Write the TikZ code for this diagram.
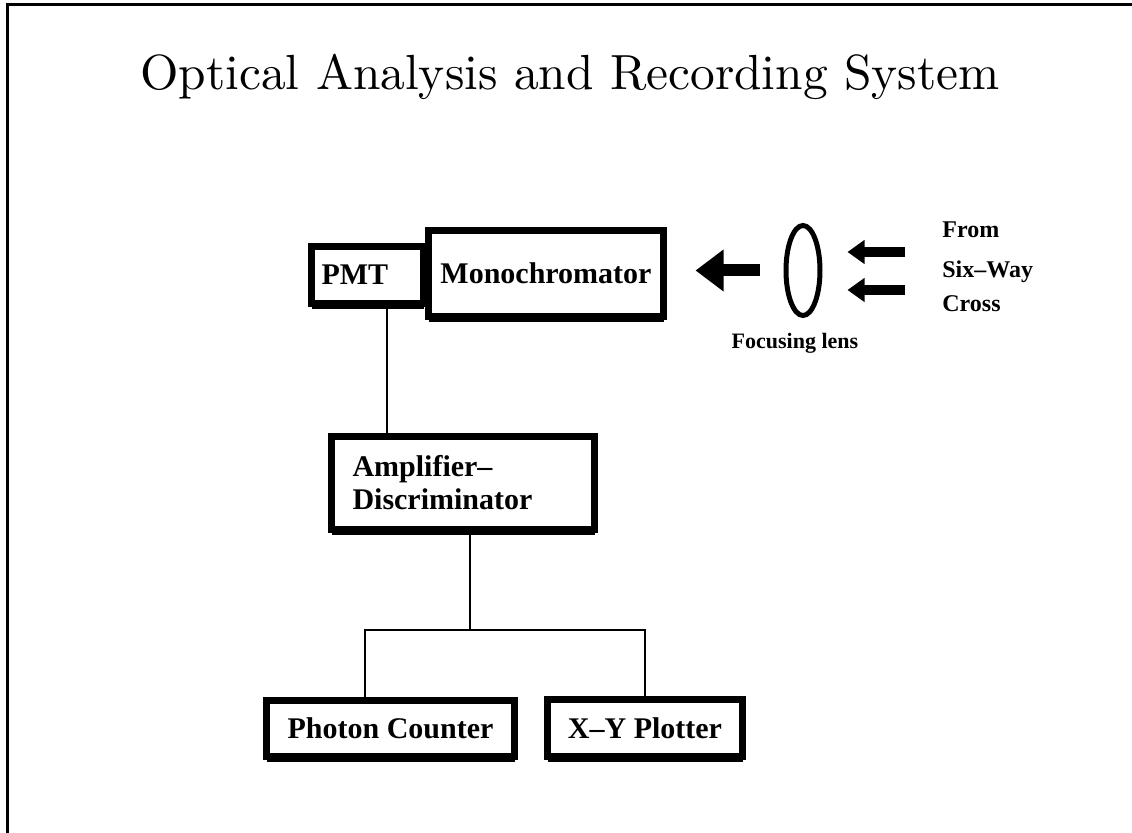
\documentclass[tikz,border=0pt]{standalone}
\usepackage{fontspec}
\newfontfamily\unitfont{Liberation Serif}
\newfontfamily\titlefont{lmroman10-regular.otf}
\usetikzlibrary{arrows.meta,shapes.geometric,shadows}

\tikzset{
  unit/.style={draw, line width=3.5pt, fill=white, inner sep=0pt,
    font=\unitfont\bfseries\fontsize{15}{16.5}\selectfont,
    general shadow={fill=black, shadow yshift=-3pt}},
  wire/.style={line width=0.75pt},
  beam/.style={line width=6pt, -{Triangle[length=14pt,width=20pt]}},
  ray/.style={line width=5pt, -{Triangle[length=8.5pt,width=11.5pt]}},
  note/.style={font=\unitfont\bfseries\fontsize{12}{14}\selectfont, inner sep=0pt},
}

\begin{document}
\begin{tikzpicture}[x=0.5pt,y=0.5pt,yscale=-1,xscale=1]
\useasboundingbox (0,0) rectangle (1132,833);

% frame
\draw[line width=1.5pt] (7,833) -- (7,5) -- (1132,5);

% Title
\node[font=\titlefont\fontsize{24.7}{30}\selectfont, anchor=base] (title) at (570,90) {Optical Analysis and Recording System};

% Units
\node[unit, text width=46pt, inner xsep=5pt, minimum height=28.5pt, align=left] (pmt) at (367.5,275) {PMT};
\node[unit, minimum width=117.5pt, minimum height=43pt] (mono) at (546,273.5) {Monochromator};
\node[unit, text width=110.5pt, inner xsep=10.5pt, minimum height=46.5pt, align=left] (amp) at (463,483) {Amplifier–\\Discriminator};
\node[unit, minimum width=124pt, minimum height=28pt] (pc) at (390.5,728.5) {Photon Counter};
\node[unit, minimum width=97.5pt, minimum height=28.5pt] (xy) at (645,728) {X–Y Plotter};

% Lens
\node[draw, ellipse, line width=2.5pt, minimum width=17pt, minimum height=45pt, inner sep=0pt] (lens) at (803,270.5) {};
\node[note, font=\unitfont\bfseries\fontsize{11}{13}\selectfont] (lenslabel) at (795,343) {Focusing lens};

% Source labels
\node[note, anchor=base west] (from) at (942,238) {From};
\node[note, anchor=base west] (sixway) at (942,278) {Six–Way};
\node[note, anchor=base west] (cross) at (942,312) {Cross};

% Light path
\coordinate (src1) at (905,252);
\coordinate (src2) at (905,290);
\draw[ray, shorten >=12.5pt] (src1) -- (src1 -| lens.east);
\draw[ray, shorten >=12.5pt] (src2) -- (src2 -| lens.east);
\draw[beam, shorten <=12pt, shorten >=14.25pt] (lens.west) -- (lens.west -| mono.east);

% Signal wiring
\draw[wire] ([xshift=9.75pt]pmt.south) -- ([xshift=9.75pt]pmt.south |- amp.north);
\coordinate (split) at (470,630);
\draw[wire] (amp.south -| split) -- (split);
\draw[wire] ([xshift=-12.75pt]pc.north) |- (split) -| (xy.north);

\end{tikzpicture}
\end{document}
